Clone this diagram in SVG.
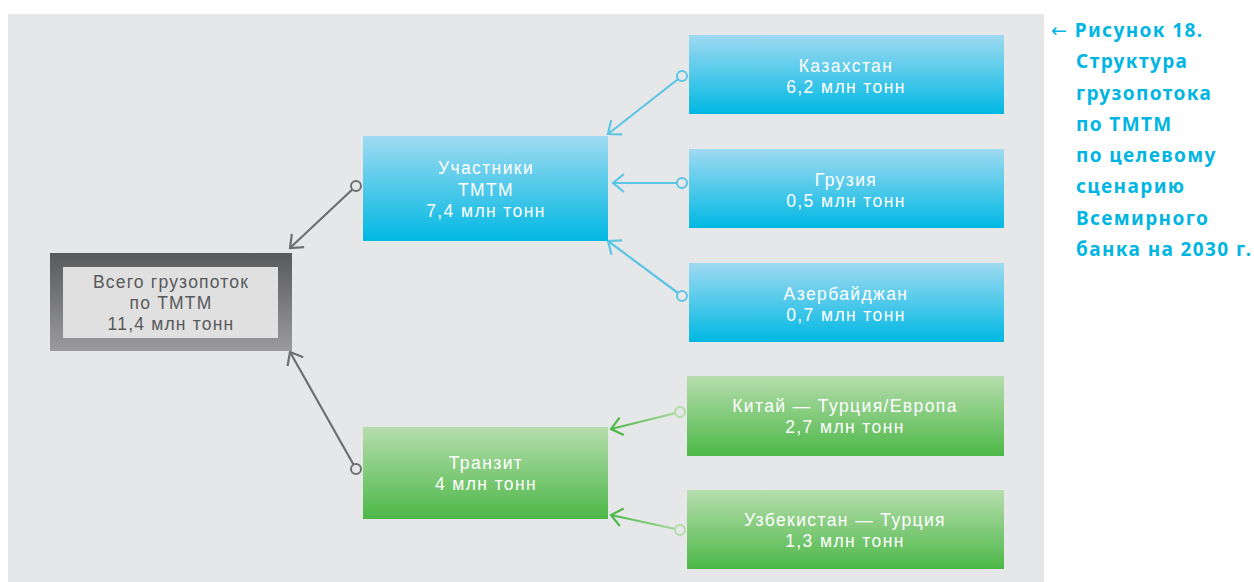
<svg xmlns="http://www.w3.org/2000/svg" width="1254" height="582" viewBox="0 0 1254 582">
<style>
.nt{font-family:"Liberation Sans",Arial,sans-serif;font-size:17.5px;fill:#ffffff;text-anchor:middle;letter-spacing:1.4px}
.tt{font-family:"Liberation Sans",Arial,sans-serif;font-size:17.5px;fill:#58595b;text-anchor:middle;letter-spacing:1.2px}
.cap{font-family:"Noto Sans","Liberation Sans",sans-serif;font-size:19px;font-weight:bold;fill:#00b5e2;letter-spacing:1.4px}
.arr{font-family:"DejaVu Sans",sans-serif;font-weight:normal}
.c{fill:none;stroke-width:2.2}
</style>
<defs>
<linearGradient id="gb" x1="0" y1="0" x2="0" y2="1"><stop offset="0" stop-color="#9fdaf1"/><stop offset="1" stop-color="#00b8e3"/></linearGradient>
<linearGradient id="gg" x1="0" y1="0" x2="0" y2="1"><stop offset="0" stop-color="#b6ddad"/><stop offset="1" stop-color="#4db848"/></linearGradient>
<linearGradient id="gd" x1="0" y1="0" x2="0" y2="1"><stop offset="0" stop-color="#58595b"/><stop offset="1" stop-color="#9b9b9d"/></linearGradient>
<linearGradient id="gl1" gradientUnits="userSpaceOnUse" x1="680" y1="412" x2="611" y2="429"><stop offset="0" stop-color="#a9d9a0"/><stop offset="1" stop-color="#4db848"/></linearGradient>
<linearGradient id="gl2" gradientUnits="userSpaceOnUse" x1="680" y1="530" x2="611" y2="515"><stop offset="0" stop-color="#a9d9a0"/><stop offset="1" stop-color="#4db848"/></linearGradient>
<marker id="ab" viewBox="-13 -11 15 22" refX="0" refY="0" markerWidth="15" markerHeight="22" markerUnits="userSpaceOnUse" orient="auto"><path d="M-11,-9 L0,0 L-11,9" fill="none" stroke="#5bc5e6" stroke-width="2.2"/></marker>
<marker id="ad" viewBox="-13 -11 15 22" refX="0" refY="0" markerWidth="15" markerHeight="22" markerUnits="userSpaceOnUse" orient="auto"><path d="M-11,-9 L0,0 L-11,9" fill="none" stroke="#6d6e71" stroke-width="2.2"/></marker>
<marker id="ag" viewBox="-13 -11 15 22" refX="0" refY="0" markerWidth="15" markerHeight="22" markerUnits="userSpaceOnUse" orient="auto"><path d="M-11,-9 L0,0 L-11,9" fill="none" stroke="#4db848" stroke-width="2.2"/></marker>
<marker id="cb" viewBox="-7 -7 14 14" refX="0" refY="0" markerWidth="14" markerHeight="14" markerUnits="userSpaceOnUse"><circle r="5" fill="#e6e7e8" stroke="#5bc5e6" stroke-width="2"/></marker>
<marker id="cd" viewBox="-7 -7 14 14" refX="0" refY="0" markerWidth="14" markerHeight="14" markerUnits="userSpaceOnUse"><circle r="5" fill="#e6e7e8" stroke="#6d6e71" stroke-width="2"/></marker>
<marker id="cg" viewBox="-7 -7 14 14" refX="0" refY="0" markerWidth="14" markerHeight="14" markerUnits="userSpaceOnUse"><circle r="5" fill="#e6e7e8" stroke="#b0dca7" stroke-width="2"/></marker>
</defs>
<rect x="0" y="0" width="1254" height="582" fill="#ffffff"/>
<rect x="8" y="14" width="1036" height="568" fill="#e6e7e8"/>
<g id="connectors">
<line class="c" x1="682" y1="76" x2="608" y2="134" stroke="#5bc5e6" marker-start="url(#cb)" marker-end="url(#ab)"/>
<line class="c" x1="682" y1="183" x2="613" y2="183" stroke="#5bc5e6" marker-start="url(#cb)" marker-end="url(#ab)"/>
<line class="c" x1="682" y1="296" x2="608" y2="241" stroke="#5bc5e6" marker-start="url(#cb)" marker-end="url(#ab)"/>
<line class="c" x1="356" y1="186" x2="290" y2="248" stroke="#6d6e71" marker-start="url(#cd)" marker-end="url(#ad)"/>
<line class="c" x1="356" y1="469" x2="290" y2="352" stroke="#6d6e71" marker-start="url(#cd)" marker-end="url(#ad)"/>
<line class="c" x1="680" y1="412" x2="611" y2="429" stroke="url(#gl1)" marker-start="url(#cg)" marker-end="url(#ag)"/>
<line class="c" x1="680" y1="530" x2="611" y2="515" stroke="url(#gl2)" marker-start="url(#cg)" marker-end="url(#ag)"/>
</g>
<g id="total">
<rect x="50" y="253" width="242" height="98" fill="url(#gd)"/>
<rect x="63" y="267" width="215" height="71" fill="#e0e0e1"/>
<text class="tt" x="171" y="288">Всего грузопоток</text>
<text class="tt" x="171" y="309">по ТМТМ</text>
<text class="tt" x="171" y="330">11,4 млн тонн</text>
</g>
<g id="participants">
<rect x="363" y="136" width="245" height="105" fill="url(#gb)"/>
<text class="nt" x="486" y="174">Участники</text>
<text class="nt" x="486" y="196">ТМТМ</text>
<text class="nt" x="486" y="217">7,4 млн тонн</text>
</g>
<g id="kazakhstan">
<rect x="689" y="35" width="315" height="79" fill="url(#gb)"/>
<text class="nt" x="846" y="72">Казахстан</text>
<text class="nt" x="846" y="93">6,2 млн тонн</text>
</g>
<g id="georgia">
<rect x="689" y="149" width="315" height="79" fill="url(#gb)"/>
<text class="nt" x="846" y="186">Грузия</text>
<text class="nt" x="846" y="207">0,5 млн тонн</text>
</g>
<g id="azerbaijan">
<rect x="689" y="263" width="315" height="79" fill="url(#gb)"/>
<text class="nt" x="846" y="300">Азербайджан</text>
<text class="nt" x="846" y="321">0,7 млн тонн</text>
</g>
<g id="transit">
<rect x="363" y="427" width="245" height="92" fill="url(#gg)"/>
<text class="nt" x="486" y="469">Транзит</text>
<text class="nt" x="486" y="490">4 млн тонн</text>
</g>
<g id="china">
<rect x="687" y="376" width="317" height="80" fill="url(#gg)"/>
<text class="nt" x="845" y="412">Китай — Турция/Европа</text>
<text class="nt" x="845" y="433">2,7 млн тонн</text>
</g>
<g id="uzbekistan">
<rect x="687" y="490" width="317" height="79" fill="url(#gg)"/>
<text class="nt" x="845" y="526">Узбекистан — Турция</text>
<text class="nt" x="845" y="547">1,3 млн тонн</text>
</g>
<g id="caption">
<text class="cap" x="1051" y="37"><tspan class="arr">←</tspan> Рисунок 18.</text>
<text class="cap" x="1076" y="68">Структура</text>
<text class="cap" x="1076" y="100">грузопотока</text>
<text class="cap" x="1076" y="131">по ТМТМ</text>
<text class="cap" x="1076" y="162">по целевому</text>
<text class="cap" x="1076" y="193">сценарию</text>
<text class="cap" x="1076" y="225">Всемирного</text>
<text class="cap" x="1076" y="256">банка на 2030 г.</text>
</g>
</svg>
